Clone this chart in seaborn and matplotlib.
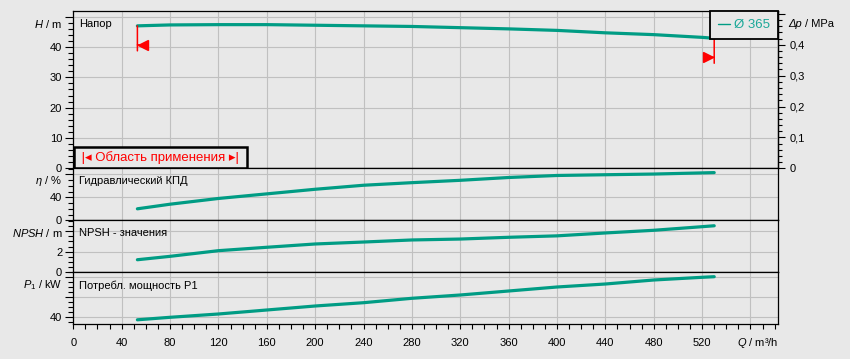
import matplotlib
matplotlib.use('Agg')
import pandas as pd
import matplotlib.pyplot as plt
import matplotlib.ticker as mticker
from matplotlib.transforms import offset_copy
import seaborn as sns

# values
q = [53, 80, 120, 160, 200, 240, 280, 320, 360, 400, 440, 480, 520, 530]
head = [47.0, 47.3, 47.4, 47.4, 47.2, 47.0, 46.8, 46.4, 46.0, 45.5, 44.7, 44.1, 43.2, 42.9]
eff = [20, 28, 38, 46, 54, 61, 65.5, 69.6, 74.5, 78, 79.3, 80.5, 82.5, 83]
npsh = [1.22, 1.55, 2.1, 2.43, 2.75, 2.94, 3.14, 3.23, 3.4, 3.54, 3.82, 4.08, 4.43, 4.52]
power = [37.5, 40, 43.3, 47.3, 51.3, 54.6, 59, 62.3, 66.3, 70.3, 73.3, 77.3, 80, 80.6]

impeller = 'Ø 365'
x_ticks = list(range(0, 561, 40))
x_labels = [str(v) for v in range(0, 521, 40)] + ['']
dp_ticks = [0, 0.1, 0.2, 0.3, 0.4, 0.5]
dp_labels = ['0', '0,1', '0,2', '0,3', '0,4', '']

df = pd.DataFrame({'Q': q, 'H': head, 'eta': eff, 'NPSH': npsh, 'P1': power})

teal = '#009c84'
bg = '#e8e8e8'

sns.set_style('ticks', rc={'axes.facecolor': bg, 'figure.facecolor': bg,
                           'axes.edgecolor': 'black', 'grid.color': '#c0c0c0',
                           'xtick.color': 'black', 'ytick.color': 'black',
                           'text.color': 'black'})
plt.rcParams['font.family'] = ['Liberation Sans', 'DejaVu Sans']
plt.rcParams['mathtext.fontset'] = 'custom'
plt.rcParams['mathtext.rm'] = 'Liberation Sans'
plt.rcParams['mathtext.it'] = 'Liberation Sans:italic'
plt.rcParams['font.size'] = 8

W, H = 850, 359
fig = plt.figure(figsize=(W / 100, H / 100), dpi=100)


def box(top, bottom):
    return [73.3 / W, (H - bottom) / H, 705 / W, (bottom - top) / H]


panels = [
    # column, px top, px bottom, ylim, ticks, labels, minor, ylabel, title
    ('H', 11.3, 168.3, (0, 51.8), [0, 10, 20, 30, 40, 50], ['0', '10', '20', '30', '40', ''], 2,
     r'$H$ / m', 'Напор'),
    ('eta', 168.3, 220.3, (0, 90.5), [0, 40, 80], ['0', '40', ''], 10,
     r'$\eta$ / %', 'Гидравлический КПД'),
    ('NPSH', 220.3, 272.3, (0, 5.05), [0, 2, 4], ['0', '2', ''], 0.5,
     r'$NPSH$ / m', 'NPSH - значения'),
    ('P1', 272.3, 324.3, (33, 85), [40, 60, 80], ['40', '', ''], 5,
     r'$P_1$ / kW', 'Потребл. мощность P1'),
]

axes = []
for col, top, bottom, ylim, ticks, labels, minor, ylabel, title in panels:
    ax = fig.add_axes(box(top, bottom))
    ax.set_axisbelow(True)
    sns.lineplot(data=df, x='Q', y=col, ax=ax, color=teal, lw=2.3,
                 label=impeller if col == 'H' else None, legend=False)
    ax.set_xlim(0, 583)
    ax.set_ylim(*ylim)
    ax.set_yticks(ticks)
    ax.set_yticklabels(labels)
    ax.yaxis.set_minor_locator(mticker.MultipleLocator(minor))
    ax.set_xticks(x_ticks)
    ax.xaxis.set_minor_locator(mticker.MultipleLocator(10))
    ax.grid(True, which='major', color='#c0c0c0', lw=0.8)
    for s in ax.spines.values():
        s.set_visible(True)
        s.set_linewidth(0.9)
        s.set_color('black')
    ax.tick_params(axis='y', which='major', length=6, width=0.8, pad=2, labelsize=8)
    ax.tick_params(axis='y', which='minor', length=3.6, width=0.8)
    ax.set_xlabel('')
    ax.set_ylabel('')
    ax.annotate(ylabel, xy=(0, 1), xycoords='axes fraction', xytext=(-11, -13),
                textcoords='offset pixels', ha='right', va='center', fontsize=8)
    ax.annotate(title, xy=(0, 1), xycoords='axes fraction', xytext=(6, -13),
                textcoords='offset pixels', ha='left', va='center', fontsize=8)
    axes.append(ax)

for ax in axes[:-1]:
    ax.tick_params(axis='x', which='both', bottom=False, labelbottom=False)
bot = axes[-1]
bot.set_xticklabels(x_labels)
bot.tick_params(axis='x', which='both', length=3.8, width=0.8, pad=6, labelsize=8)
bot.annotate(r'$Q$ / m³/h', xy=(1, 0), xycoords='axes fraction', xytext=(0, -19),
             textcoords='offset pixels', ha='right', va='center', fontsize=8)

# head panel: pressure axis, legend, operating range
ax_h = axes[0]
rho_g = 0.00981
sec = ax_h.secondary_yaxis('right', functions=(lambda h: h * rho_g, lambda p: p / rho_g))
sec.set_yticks(dp_ticks)
sec.set_yticklabels(dp_labels)
sec.yaxis.set_minor_locator(mticker.MultipleLocator(0.02))
sec.tick_params(which='major', length=5, width=0.8, pad=3, labelsize=8)
sec.tick_params(which='minor', length=3, width=0.8)
sec.spines['right'].set_linewidth(0.9)
ax_h.annotate('Δp', xy=(1, 1), xycoords='axes fraction', xytext=(10, -13),
              textcoords='offset pixels', ha='left', va='center', fontsize=8,
              fontstyle='italic')
ax_h.annotate('/ MPa', xy=(1, 1), xycoords='axes fraction', xytext=(27, -13),
              textcoords='offset pixels', ha='left', va='center', fontsize=8)

leg = ax_h.legend(loc='upper right', borderaxespad=0, frameon=True, fancybox=False,
                  edgecolor='black', facecolor=bg, framealpha=1, fontsize=9.5,
                  handlelength=0.9, handletextpad=0.35, labelcolor='#1aa898',
                  borderpad=0.6)
leg.get_frame().set_linewidth(1.3)
for ln in leg.get_lines():
    ln.set_linewidth(1)

# red range markers at both ends of the curve
for qq, hh, side in [(q[0], head[0], 1), (q[-1], head[-1], -1)]:
    ax_h.annotate('', xy=(qq, hh), xytext=(0, -25), textcoords='offset pixels',
                  arrowprops=dict(arrowstyle='-', color='red', lw=1.1, shrinkA=0, shrinkB=0))
    tr = offset_copy(ax_h.transData, fig=fig, x=side * 6, y=-19, units='dots')
    ax_h.plot([qq], [hh], marker='<' if side > 0 else '>', color='red', ms=6.5,
              transform=tr, clip_on=False)
    ax_h.annotate('', xy=(qq, hh), xycoords=offset_copy(ax_h.transData, fig=fig, x=0, y=-19, units='dots'),
                  xytext=(side * 6, 0), textcoords='offset pixels',
                  arrowprops=dict(arrowstyle='-', color='red', lw=1.1, shrinkA=0, shrinkB=0))

ax_h.annotate(' |◂ Область применения ▸| ', xy=(0, 0), xycoords='axes fraction',
              xytext=(5, 4), textcoords='offset pixels', ha='left', va='bottom',
              color='red', fontsize=9.5,
              bbox=dict(boxstyle='square,pad=0.3', fc=bg, ec='black', lw=1.8))

fig.savefig('out.png', dpi=100, facecolor=bg)
